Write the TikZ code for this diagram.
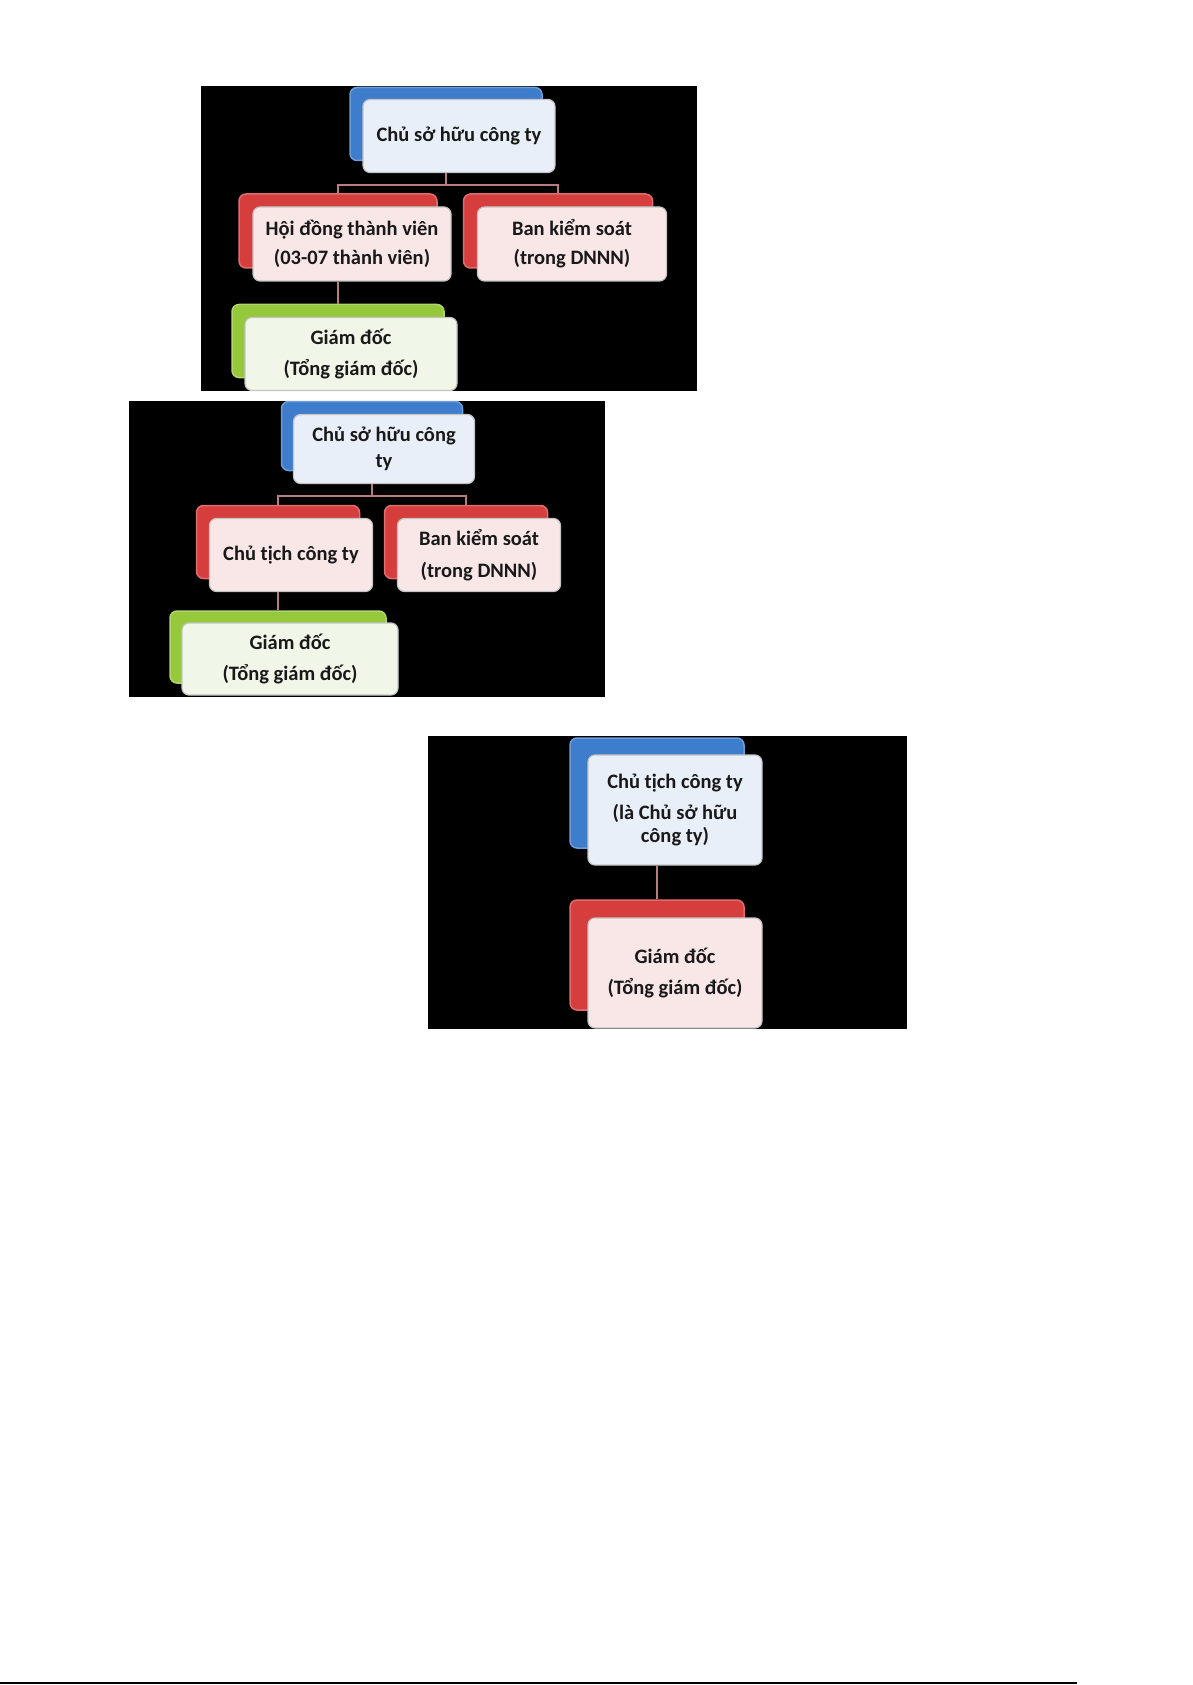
\documentclass[tikz,border=0pt]{standalone}
\usepackage{fontspec}
\setmainfont{Carlito}
\usepackage{tikz}
\usetikzlibrary{positioning,calc}

\definecolor{ownblue}{RGB}{62,124,204}
\definecolor{bodred}{RGB}{214,62,62}
\definecolor{mgrgreen}{RGB}{150,200,60}
\definecolor{cardline}{RGB}{196,196,196}
\definecolor{linkred}{RGB}{185,125,125}
\definecolor{tintblue}{RGB}{232,239,248}
\definecolor{tintred}{RGB}{249,231,231}
\definecolor{tintgreen}{RGB}{240,247,232}
\definecolor{inktext}{RGB}{25,25,25}

\begin{document}
\begin{tikzpicture}[x=1pt, y=-1pt,
    back/.style={draw=#1!75!white, line width=1.5pt, fill=#1, rounded corners=7pt, inner sep=0pt},
    card/.style={draw=cardline, line width=1.2pt, fill=#1, rounded corners=7pt, inner sep=0pt,
        align=center, text=inktext, font=\fontsize{20.5}{29}\selectfont\bfseries},
    link/.style={draw=linkred, line width=1.3pt}]
    \useasboundingbox (0,0) rectangle (1192,1685);
    \fill[white] (0,0) rectangle (1192,1685);

    % Panels
    \fill[black] (201,86) rectangle (697,391);
    \fill[black] (129,401) rectangle (605,697);
    \fill[black] (428,736) rectangle (907,1029);

    % Panel 1: Hoi dong thanh vien
    \node[back=ownblue, minimum width=192pt, minimum height=73pt] (own1b) at (446,124) {};
    \node[card=tintblue, minimum width=192pt, minimum height=73pt] (own1) at ($(own1b)+(13,12)$) {Chủ sở hữu công ty};
    \node[back=bodred, minimum width=198pt, minimum height=74pt] (hdtv1b) at (338,231) {};
    \node[card=tintred, minimum width=198pt, minimum height=74pt] (hdtv1) at ($(hdtv1b)+(14,13)$) {Hội đồng thành viên\\(03-07 thành viên)};
    \node[back=bodred, minimum width=189pt, minimum height=74pt] (bks1b) at (558,231) {};
    \node[card=tintred, minimum width=189pt, minimum height=74pt] (bks1) at ($(bks1b)+(14,13)$) {Ban kiểm soát\\(trong DNNN)};
    \node[back=mgrgreen, minimum width=212pt, minimum height=73pt] (gd1b) at (338,341) {};
    \node[card=tintgreen, minimum width=212pt, minimum height=73pt] (gd1) at ($(gd1b)+(13,13)$) {Giám đốc\\[2pt](Tổng giám đốc)};
    \coordinate (fork1) at (446,185);
    \draw[link] (own1.south -| own1b) -- (fork1);
    \draw[link] (hdtv1b.north) |- (fork1) -| (bks1b.north);
    \draw[link] (hdtv1.south -| hdtv1b) -- (gd1b.north);

    % Panel 2: Chu tich cong ty
    \node[back=ownblue, minimum width=181pt, minimum height=69pt] (own2b) at (372,436) {};
    \node[card=tintblue, minimum width=181pt, minimum height=69pt] (own2) at ($(own2b)+(12,13)$) {Chủ sở hữu công\\[-3pt]ty};
    \node[back=bodred, minimum width=163pt, minimum height=73pt] (ctct2b) at (278,542) {};
    \node[card=tintred, minimum width=163pt, minimum height=73pt] (ctct2) at ($(ctct2b)+(13,13)$) {Chủ tịch công ty};
    \node[back=bodred, minimum width=163pt, minimum height=73pt] (bks2b) at (466,542) {};
    \node[card=tintred, minimum width=163pt, minimum height=73pt] (bks2) at ($(bks2b)+(13,13)$) {Ban kiểm soát\\[3pt](trong DNNN)};
    \node[back=mgrgreen, minimum width=216pt, minimum height=72pt] (gd2b) at (278,647) {};
    \node[card=tintgreen, minimum width=216pt, minimum height=72pt] (gd2) at ($(gd2b)+(12,12)$) {Giám đốc\\[2pt](Tổng giám đốc)};
    \coordinate (fork2) at (372,496);
    \draw[link] (own2.south -| own2b) -- (fork2);
    \draw[link] (ctct2b.north) |- (fork2) -| (bks2b.north);
    \draw[link] (ctct2.south -| ctct2b) -- (gd2b.north);

    % Panel 3: Chu tich la chu so huu
    \node[back=ownblue, minimum width=174pt, minimum height=110pt] (ctct3b) at (657,793) {};
    \node[card=tintblue, minimum width=174pt, minimum height=110pt] (ctct3) at ($(ctct3b)+(18,17)$) {Chủ tịch công ty\\[2pt](là Chủ sở hữu\\[-6pt]công ty)};
    \node[back=bodred, minimum width=174pt, minimum height=110pt] (gd3b) at (657,955) {};
    \node[card=tintred, minimum width=174pt, minimum height=110pt] (gd3) at ($(gd3b)+(18,18)$) {Giám đốc\\[2pt](Tổng giám đốc)};
    \draw[link] (ctct3.south -| ctct3b) -- (gd3b.north);

    % Page rule
    \draw[line width=2pt] (0,1683) -- (1077,1683);
\end{tikzpicture}
\end{document}
